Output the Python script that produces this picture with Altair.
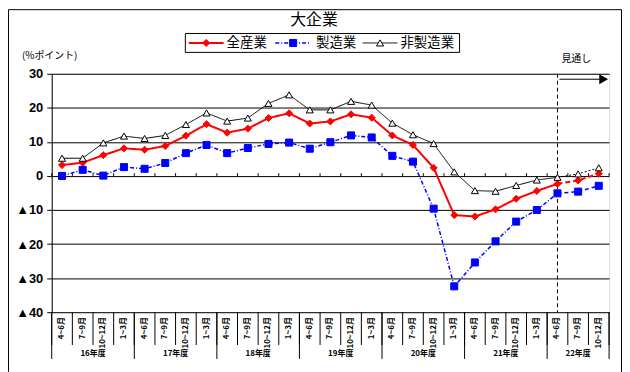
import altair as alt
import pandas as pd

# ---------------- data ----------------
years = ["16年度", "17年度", "18年度", "19年度", "20年度", "21年度", "22年度"]
quarters = ["4~6月", "7~9月", "10~12月", "1~3月"]
categories = [q for y in years for q in quarters][:27]

all_industries = [3.2, 3.9, 6.1, 8.1, 7.7, 8.8, 11.8, 15.2, 12.7, 13.9, 17.0, 18.4, 15.4, 16.0,
                  18.1, 17.1, 11.9, 9.1, 2.4, -11.5, -11.9, -9.8, -6.7, -4.4, -2.3, -1.3, 0.7]
manufacturing = [0.0, 1.8, 0.1, 2.6, 2.1, 3.8, 6.7, 9.1, 6.7, 8.2, 9.4, 9.8, 8.0, 9.9,
                 11.9, 11.3, 5.9, 4.2, -9.6, -32.4, -25.4, -19.2, -13.4, -10.0, -5.1, -4.6, -2.9]
non_manufacturing = [5.2, 5.2, 9.7, 11.7, 11.0, 11.9, 15.1, 18.5, 16.1, 17.0, 21.3, 23.8, 19.4, 19.4,
                     21.9, 20.8, 15.5, 12.1, 9.5, 1.2, -4.3, -4.5, -2.8, -1.2, -0.4, 0.6, 2.4]
series_names = ["全産業", "製造業", "非製造業"]
forecast_start = 24  # 22年度 4~6月

n = len(categories)
rows = []
for name, vals in zip(series_names, [all_industries, manufacturing, non_manufacturing]):
    for i, v in enumerate(vals):
        rows.append({"series": name, "i": i, "xc": i + 0.5, "value": v})
df = pd.DataFrame(rows)

cat_df = pd.DataFrame({"xc": [i + 0.5 for i in range(n)], "label": categories})
bound_df = pd.DataFrame({"b": list(range(n + 1)), "z0": 0.0, "z1": 0.8})
year_bounds = sorted(set(list(range(0, n, 4)) + [n]))
yb_df = pd.DataFrame({"b": year_bounds})
year_df = pd.DataFrame({
    "xc": [(year_bounds[k] + year_bounds[k + 1]) / 2 for k in range(len(years))],
    "label": years,
})
one = pd.DataFrame({"k": [0]})

# ---------------- scales / axes ----------------
xs = alt.Scale(domain=[0, n], nice=False, zero=False)
ys = alt.Scale(domain=[-40, 30], nice=False, zero=False)
yax = alt.Axis(
    values=list(range(-40, 31, 10)),
    labelExpr="datum.value < 0 ? '▲' + abs(datum.value) : '' + datum.value",
    grid=True, gridColor="black", gridOpacity=1, gridWidth=1,
    domainColor="black", tickColor="black", tickSize=5,
    labelFont="Liberation Sans", labelFontSize=13, labelFontWeight="bold",
    labelColor="black", labelPadding=4, title=None,
)
X = alt.X("xc:Q", scale=xs, axis=None)
Y = alt.Y("value:Q", scale=ys, axis=yax)

styles = {
    "全産業": dict(color="#FF0000", width=2, dash=[1, 0], fdash=[5, 3], shape="diamond", size=50,
                fill="#FF0000"),
    "製造業": dict(color="#0000FF", width=1.5, dash=[4, 2, 1, 2], fdash=[4, 3], shape="square", size=50,
                fill="#0000FF"),
    "非製造業": dict(color="#000000", width=1, dash=[1, 0], fdash=[2, 2], shape="triangle-up", size=50,
                 fill="#FFFFFF"),
}

layers = []

# zero-line small ticks
layers.append(alt.Chart(bound_df).mark_rule(color="black", strokeWidth=1).encode(
    x=alt.X("b:Q", scale=xs, axis=None),
    y=alt.Y("z0:Q", scale=ys, axis=yax), y2="z1:Q"))

# forecast dashed vertical line
layers.append(alt.Chart(pd.DataFrame({"xf": [forecast_start + 0.5]})).mark_rule(
    color="black", strokeWidth=1, strokeDash=[4, 3]).encode(
    x=alt.X("xf:Q", scale=xs, axis=None)))

for name in series_names:
    st = styles[name]
    sub = df[df.series == name]
    act = sub[sub.i <= forecast_start]
    fc = sub[sub.i >= forecast_start]
    layers.append(alt.Chart(act).mark_line(color=st["color"], strokeWidth=st["width"],
                                           strokeDash=st["dash"]).encode(x=X, y=Y, order="i:Q"))
    layers.append(alt.Chart(fc).mark_line(color=st["color"], strokeWidth=st["width"],
                                          strokeDash=st["fdash"]).encode(x=X, y=Y, order="i:Q"))
for name in series_names:
    st = styles[name]
    sub = df[df.series == name]
    layers.append(alt.Chart(sub).mark_point(shape=st["shape"], size=st["size"], filled=True,
                                            fill=st["fill"], stroke=st["color"], strokeWidth=1,
                                            opacity=1).encode(x=X, y=Y))

# x category labels and separators
layers.append(alt.Chart(cat_df).mark_text(angle=270, align="right", baseline="middle",
                                          font="Noto Sans CJK JP", fontSize=8, fontWeight="bold",
                                          color="black").encode(
    x=X, y=alt.value(245), text="label:N"))
layers.append(alt.Chart(bound_df).mark_rule(color="black", strokeWidth=1).encode(
    x=alt.X("b:Q", scale=xs, axis=None), y=alt.value(240), y2=alt.value(273)))
layers.append(alt.Chart(yb_df).mark_rule(color="black", strokeWidth=1).encode(
    x=alt.X("b:Q", scale=xs, axis=None), y=alt.value(240), y2=alt.value(287)))
layers.append(alt.Chart(year_df).mark_text(baseline="middle", align="center",
                                           font="Noto Sans CJK JP", fontSize=8, fontWeight="bold",
                                           color="black").encode(
    x=X, y=alt.value(282), text="label:N"))

# outer frame
layers.append(alt.Chart(one).mark_rule(color="black", strokeWidth=1).encode(
    x=alt.value(-43.5), y=alt.value(-64.5), y2=alt.value(300)))
layers.append(alt.Chart(one).mark_rule(color="black", strokeWidth=1).encode(
    x=alt.value(573.5), y=alt.value(-64.5), y2=alt.value(300)))
layers.append(alt.Chart(one).mark_rule(color="black", strokeWidth=1).encode(
    x=alt.value(-43.5), x2=alt.value(573.5), y=alt.value(-64.5)))

# title
layers.append(alt.Chart(one).mark_text(text="大企業", font="Noto Sans CJK JP", fontSize=16,
                                       color="black", align="center", baseline="middle").encode(
    x=alt.value(264), y=alt.value(-54)))

# legend
layers.append(alt.Chart(one).mark_rect(fill="white", stroke="black", strokeWidth=1).encode(
    x=alt.value(134.5), x2=alt.value(410.5), y=alt.value(-40.5), y2=alt.value(-21.5)))
leg_pos = {"全産業": (138, 173, 176), "製造業": (225, 261, 266), "非製造業": (313, 348, 351)}
for name in series_names:
    st = styles[name]
    x0, x1, tx = leg_pos[name]
    layers.append(alt.Chart(one).mark_rule(color=st["color"], strokeWidth=st["width"],
                                           strokeDash=st["dash"]).encode(
        x=alt.value(x0), x2=alt.value(x1), y=alt.value(-31)))
    layers.append(alt.Chart(one).mark_point(shape=st["shape"], size=st["size"], filled=True,
                                            fill=st["fill"], stroke=st["color"], strokeWidth=1,
                                            opacity=1).encode(
        x=alt.value((x0 + x1) / 2), y=alt.value(-31)))
    layers.append(alt.Chart(one).mark_text(text=name, font="Noto Sans CJK JP", fontSize=13.5,
                                           color="black", align="left", baseline="middle").encode(
        x=alt.value(tx), y=alt.value(-31)))

# unit label
layers.append(alt.Chart(one).mark_text(text="(%ポイント)", font="Noto Sans CJK JP", fontSize=10,
                                       color="black", align="left", baseline="middle").encode(
    x=alt.value(-30), y=alt.value(-18)))

# forecast label and arrow
layers.append(alt.Chart(one).mark_text(text="見通し", font="Noto Sans CJK JP", fontSize=10,
                                       color="black", align="center", baseline="middle").encode(
    x=alt.value(528), y=alt.value(-15)))
layers.append(alt.Chart(one).mark_rule(color="black", strokeWidth=1).encode(
    x=alt.value(511), x2=alt.value(553), y=alt.value(5.5)))
layers.append(alt.Chart(one).mark_point(shape="triangle-right", size=45, filled=True, fill="black",
                                        stroke="black", opacity=1).encode(
    x=alt.value(555), y=alt.value(5.5)))

chart = alt.layer(*layers).properties(
    width=561, height=240,
    padding={"left": 44, "top": 65, "right": 13, "bottom": 59},
    autosize=alt.AutoSizeParams(type="none"),
).configure_view(stroke="black", strokeWidth=1).configure(background="white")

chart.save("out.html", embed_options={"renderer": "svg", "actions": False})
